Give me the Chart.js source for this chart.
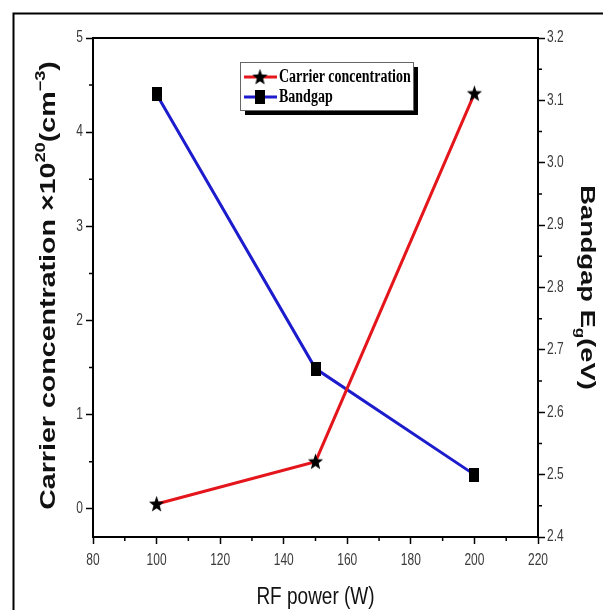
<!DOCTYPE html>
<html><head><meta charset="utf-8">
<script src="https://cdn.jsdelivr.net/npm/chart.js@4"></script>
<style>html,body{margin:0;padding:0;background:#fff;overflow:hidden}canvas{display:block}</style>
</head><body>
<canvas id="c" width="603" height="610"></canvas>
<script>
// ---- data ----
const rfPower = [100, 150, 200];
const carrierConc = [0.05, 0.5, 4.41];
const bandgapEg = [3.11, 2.67, 2.50];
const xTickValues = [80, 100, 120, 140, 160, 180, 200, 220];
const xMinorTicks = [90, 110, 130, 150, 170, 190, 210];
const leftTickValues = [0, 1, 2, 3, 4, 5];
const leftMinorTicks = [0.5, 1.5, 2.5, 3.5, 4.5];
const rightTickValues = [2.4, 2.5, 2.6, 2.7, 2.8, 2.9, 3.0, 3.1, 3.2];
const rightMinorTicks = [2.45, 2.55, 2.65, 2.75, 2.85, 2.95, 3.05, 3.15];
const seriesNames = ['Carrier concentration', 'Bandgap'];

const SY = 1.3; // vertical stretch of the reference image
const SANS = '"Liberation Sans", Arial, sans-serif';
const SERIF = '"Liberation Serif", "Times New Roman", serif';

function makeStar() {
  const c = document.createElement('canvas'); c.width = 17; c.height = 18;
  const g = c.getContext('2d'); g.fillStyle = '#000';
  g.translate(8.5, 9.5); g.scale(1, 1.1); g.beginPath();
  for (let i = 0; i < 10; i++) {
    const r = i % 2 === 0 ? 8 : 3.3;
    const a = -Math.PI / 2 + i * Math.PI / 5;
    const px = r * Math.cos(a), py = r * Math.sin(a);
    if (i === 0) g.moveTo(px, py); else g.lineTo(px, py);
  }
  g.closePath(); g.fill(); return c;
}
function makeSquare() {
  const c = document.createElement('canvas'); c.width = 10; c.height = 14;
  const g = c.getContext('2d'); g.fillStyle = '#000'; g.fillRect(0, 0, 10, 14); return c;
}
const starImg = makeStar(), squareImg = makeSquare();

function drawRich(ctx, parts, x, y, rot, along, perp, color) {
  ctx.save(); ctx.translate(x, y); ctx.rotate(rot); ctx.scale(along, perp);
  ctx.fillStyle = color; ctx.textBaseline = 'alphabetic'; ctx.textAlign = 'left';
  let total = 0;
  parts.forEach(p => { ctx.font = p.font; p.w = ctx.measureText(p.t).width; total += p.w; });
  let cx = -total / 2;
  parts.forEach(p => { ctx.font = p.font; ctx.fillText(p.t, cx, p.dy || 0); cx += p.w; });
  ctx.restore();
}
function drawLabel(ctx, t, x, y, align, font, color) {
  ctx.save(); ctx.translate(x, y); ctx.scale(1, SY);
  ctx.font = font; ctx.fillStyle = color; ctx.textAlign = align; ctx.textBaseline = 'middle';
  ctx.fillText(t, 0, 0); ctx.restore();
}

const decor = {
  id: 'decor',
  afterDraw(chart) {
    const ctx = chart.ctx, a = chart.chartArea;
    const sx = chart.scales.x, sl = chart.scales.y, sr = chart.scales.y2;
    ctx.save();
    // outer frame (left and top)
    ctx.strokeStyle = '#000'; ctx.lineWidth = 2;
    ctx.beginPath(); ctx.moveTo(13.5, 610); ctx.lineTo(13.5, 13.5); ctx.lineTo(603, 13.5); ctx.stroke();
    // plot top line
    ctx.beginPath(); ctx.moveTo(a.left - 1, a.top); ctx.lineTo(a.right + 1, a.top); ctx.stroke();
    // minor ticks
    ctx.lineWidth = 1.5;
    ctx.beginPath();
    xMinorTicks.forEach(v => { const p = sx.getPixelForValue(v); ctx.moveTo(p, a.bottom); ctx.lineTo(p, a.bottom + 4); });
    leftMinorTicks.forEach(v => { const p = sl.getPixelForValue(v); ctx.moveTo(a.left, p); ctx.lineTo(a.left - 4, p); });
    rightMinorTicks.forEach(v => { const p = sr.getPixelForValue(v); ctx.moveTo(a.right, p); ctx.lineTo(a.right + 4, p); });
    ctx.stroke();
    // tick labels
    const tf = '12px ' + SANS, tc = '#3a3a3a';
    xTickValues.forEach(v => drawLabel(ctx, String(v), sx.getPixelForValue(v), a.bottom + 24, 'center', tf, tc));
    leftTickValues.forEach(v => drawLabel(ctx, String(v), a.left - 10, sl.getPixelForValue(v), 'right', tf, tc));
    rightTickValues.forEach(v => drawLabel(ctx, v.toFixed(1), a.right + 9, sr.getPixelForValue(v), 'left', tf, tc));
    // axis titles
    const B22 = 'bold 22px ' + SANS, B14 = 'bold 14px ' + SANS;
    drawRich(ctx, [
      { t: 'Carrier concentration \u00d710', font: B22 },
      { t: '20', font: B14, dy: -10 },
      { t: '(cm', font: B22 },
      { t: '\u22123', font: B14, dy: -10 },
      { t: ')', font: B22 }
    ], 55, (a.top + a.bottom) / 2 - 2, -Math.PI / 2, SY, 1, '#111');
    const B21 = 'bold 21px ' + SANS, B13 = 'bold 13px ' + SANS;
    drawRich(ctx, [
      { t: 'Bandgap E', font: B21 },
      { t: 'g', font: B13, dy: 5 },
      { t: '(eV)', font: B21 }
    ], 581, (a.top + a.bottom) / 2, Math.PI / 2, SY, 1, '#111');
    drawRich(ctx, [{ t: 'RF power (W)', font: '19px ' + SANS }], (a.left + a.right) / 2, 604, 0, 1, SY, '#111');
    // legend
    const lx = 240, ly = 62, lw = 173, lh = 48;
    ctx.fillStyle = '#000'; ctx.fillRect(lx + 5, ly + 5, lw, lh);
    ctx.fillStyle = '#fff'; ctx.fillRect(lx, ly, lw, lh);
    ctx.strokeStyle = '#666'; ctx.lineWidth = 1; ctx.strokeRect(lx + 0.5, ly + 0.5, lw, lh);
    const ds = chart.data.datasets;
    [77, 97].forEach((ry, i) => {
      ctx.strokeStyle = ds[i].borderColor; ctx.lineWidth = 3;
      ctx.beginPath(); ctx.moveTo(244, ry); ctx.lineTo(277, ry); ctx.stroke();
      const img = ds[i].pointStyle;
      ctx.drawImage(img, 260 - img.width / 2, ry - img.height / 2);
      drawLabel(ctx, seriesNames[i], 279, ry, 'left', 'bold 14px ' + SERIF, '#000');
    });
    ctx.restore();
  }
};

const majorGrid = { display: true, drawOnChartArea: false, drawTicks: true, tickLength: 7, tickWidth: 1.5, tickColor: '#000', color: '#000' };
const border = { display: true, color: '#000', width: 2 };

new Chart(document.getElementById('c'), {
  type: 'line',
  data: {
    datasets: [
      {
        label: seriesNames[0], yAxisID: 'y',
        data: rfPower.map((x, i) => ({ x, y: carrierConc[i] })),
        borderColor: 'rgb(228,22,28)', borderWidth: 3, pointStyle: starImg, tension: 0
      },
      {
        label: seriesNames[1], yAxisID: 'y2',
        data: rfPower.map((x, i) => ({ x, y: bandgapEg[i] })),
        borderColor: 'rgb(28,28,205)', borderWidth: 3, pointStyle: squareImg, tension: 0
      }
    ]
  },
  options: {
    responsive: false, animation: false,
    layout: { padding: { top: 38, left: 0, right: 0, bottom: 0 } },
    plugins: { legend: { display: false }, tooltip: { enabled: false } },
    scales: {
      x: {
        type: 'linear', position: 'bottom', min: 80, max: 220,
        afterBuildTicks: s => { s.ticks = xTickValues.map(v => ({ value: v })); },
        afterFit: s => { s.height = 73; },
        ticks: { display: false }, grid: majorGrid, border
      },
      y: {
        type: 'linear', position: 'left', min: -0.3, max: 5,
        afterBuildTicks: s => { s.ticks = leftTickValues.map(v => ({ value: v })); },
        afterFit: s => { s.width = 93; },
        ticks: { display: false }, grid: majorGrid, border
      },
      y2: {
        type: 'linear', position: 'right', min: 2.4, max: 3.2,
        afterBuildTicks: s => { s.ticks = rightTickValues.map(v => ({ value: v })); },
        afterFit: s => { s.width = 65; },
        ticks: { display: false }, grid: majorGrid, border
      }
    }
  },
  plugins: [decor]
});
</script>
</body></html>
